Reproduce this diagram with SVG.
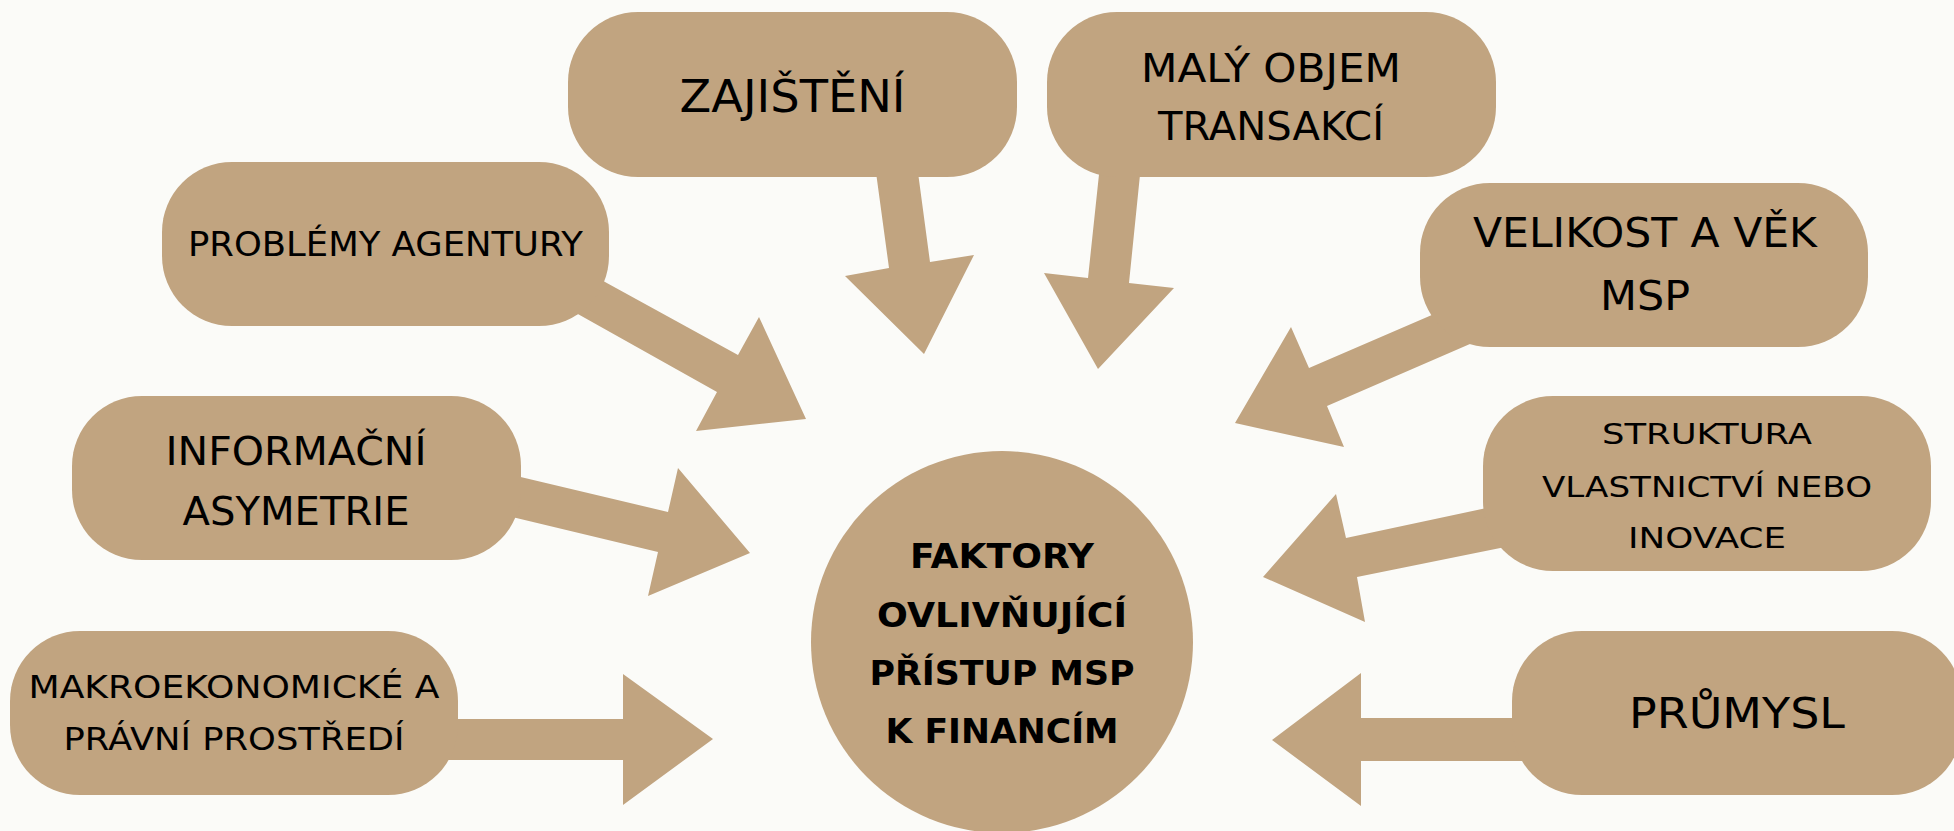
<svg xmlns="http://www.w3.org/2000/svg" width="1954" height="831" viewBox="0 0 1954 831">
<style>
.bg{fill:#fbfbf8}
.shape{fill:#c1a480}
.t{font-family:"DejaVu Sans","Liberation Sans",sans-serif;fill:#000;text-anchor:middle}
.c{font-family:"DejaVu Sans","Liberation Sans",sans-serif;font-weight:bold;fill:#000;text-anchor:middle;font-size:34px}
</style>
<rect class="bg" x="0" y="0" width="1954" height="831"/>
<g id="connectors" class="shape">
<polygon points="875,165 889,268 845,276 924,354 974,255 930,262 917,165"/>
<polygon points="1100,165 1088,278 1044,273 1098,369 1174,288 1129,283 1141,165"/>
<polygon points="585,271 738,355 759,317 806,419 696,431 717,392 560,304"/>
<polygon points="500,472 668,512 678,468 750,553 648,596 658,552 495,513"/>
<polygon points="440,719 623,719 623,674 713,739 623,805 623,760 440,760"/>
<polygon points="1455,305 1309,368 1291,327 1235,423 1344,447 1327,406 1493,334"/>
<polygon points="1510,503 1346,538 1336,494 1263,577 1365,622 1357,577 1525,543"/>
<polygon points="1530,718 1361,718 1361,673 1272,740 1361,806 1361,761 1530,761"/>
</g>
<g id="center">
<circle class="shape" cx="1002" cy="642" r="191"/>
<text class="c" x="1002" y="568" textLength="184" lengthAdjust="spacingAndGlyphs">FAKTORY</text>
<text class="c" x="1002" y="627" textLength="250" lengthAdjust="spacingAndGlyphs">OVLIVŇUJÍCÍ</text>
<text class="c" x="1002" y="685" textLength="265" lengthAdjust="spacingAndGlyphs">PŘÍSTUP MSP</text>
<text class="c" x="1002" y="743" textLength="233" lengthAdjust="spacingAndGlyphs">K FINANCÍM</text>
</g>
<g id="zajisteni">
<rect class="shape" x="568" y="12" width="449" height="165" rx="70" ry="70"/>
<text class="t" x="792.5" y="112" font-size="44" textLength="226" lengthAdjust="spacingAndGlyphs">ZAJIŠTĚNÍ</text>
</g>
<g id="maly-objem">
<rect class="shape" x="1047" y="12" width="449" height="165" rx="70" ry="70"/>
<text class="t" x="1271" y="82" font-size="39" textLength="260" lengthAdjust="spacingAndGlyphs">MALÝ OBJEM</text>
<text class="t" x="1271" y="140" font-size="39" textLength="226" lengthAdjust="spacingAndGlyphs">TRANSAKCÍ</text>
</g>
<g id="problemy">
<rect class="shape" x="162" y="162" width="447" height="164" rx="70" ry="70"/>
<text class="t" x="385.5" y="256" font-size="33" textLength="395" lengthAdjust="spacingAndGlyphs">PROBLÉMY AGENTURY</text>
</g>
<g id="velikost">
<rect class="shape" x="1420" y="183" width="448" height="164" rx="70" ry="70"/>
<text class="t" x="1645" y="247" font-size="41" textLength="344" lengthAdjust="spacingAndGlyphs">VELIKOST A VĚK</text>
<text class="t" x="1645" y="310" font-size="41" textLength="90" lengthAdjust="spacingAndGlyphs">MSP</text>
</g>
<g id="informacni">
<rect class="shape" x="72" y="396" width="449" height="164" rx="70" ry="70"/>
<text class="t" x="296" y="465" font-size="39" textLength="261" lengthAdjust="spacingAndGlyphs">INFORMAČNÍ</text>
<text class="t" x="296" y="525" font-size="39" textLength="227" lengthAdjust="spacingAndGlyphs">ASYMETRIE</text>
</g>
<g id="struktura">
<rect class="shape" x="1483" y="396" width="448" height="175" rx="70" ry="70"/>
<text class="t" x="1707" y="444" font-size="29" textLength="210" lengthAdjust="spacingAndGlyphs">STRUKTURA</text>
<text class="t" x="1707" y="497" font-size="29" textLength="330" lengthAdjust="spacingAndGlyphs">VLASTNICTVÍ NEBO</text>
<text class="t" x="1707" y="548" font-size="29" textLength="158" lengthAdjust="spacingAndGlyphs">INOVACE</text>
</g>
<g id="makro">
<rect class="shape" x="10" y="631" width="448" height="164" rx="70" ry="70"/>
<text class="t" x="234" y="698" font-size="32" textLength="411" lengthAdjust="spacingAndGlyphs">MAKROEKONOMICKÉ A</text>
<text class="t" x="234" y="750" font-size="32" textLength="341" lengthAdjust="spacingAndGlyphs">PRÁVNÍ PROSTŘEDÍ</text>
</g>
<g id="prumysl">
<rect class="shape" x="1512" y="631" width="450" height="164" rx="70" ry="70"/>
<text class="t" x="1737" y="728" font-size="43" textLength="216" lengthAdjust="spacingAndGlyphs">PRŮMYSL</text>
</g>
</svg>
